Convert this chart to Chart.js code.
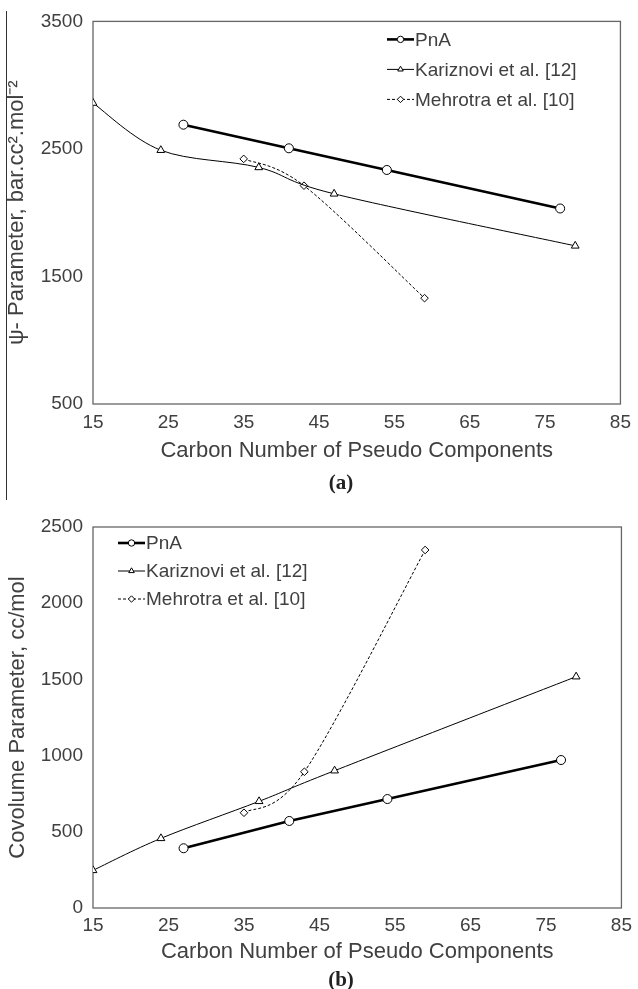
<!DOCTYPE html>
<html>
<head>
<meta charset="utf-8">
<script src="https://cdn.jsdelivr.net/npm/chart.js@4.4.1/dist/chart.umd.min.js"></script>
<style>
  body { margin: 0; background: #fff; }
  #page { position: relative; width: 638px; height: 989px; overflow: hidden; }
  canvas { position: absolute; left: 0; }
  .tag { position: absolute; width: 80px; margin-left: -40px; text-align: center;
         font: bold 21px "Liberation Serif", "Times New Roman", serif; color: #222; line-height: 24px; }
  #edge { position: absolute; left: 6px; top: 11px; width: 1px; height: 489px; background: #333; }
</style>
</head>
<body>
<div id="page">
  <div id="edge"></div>
  <canvas id="chartA" width="638" height="500" style="top:0"></canvas>
  <canvas id="chartB" width="638" height="489" style="top:500px"></canvas>
  <div class="tag" style="left:341px; top:470px">(a)</div>
  <div class="tag" style="left:341px; top:967px">(b)</div>
</div>
<script>
// Carbon numbers of the pseudo components for each method
const carbonPnA = [27, 41, 54, 77];
const carbonKariznovi = [15, 24, 37, 47, 79];
const carbonMehrotra = [35, 43, 59];

// (a) psi parameter, bar.cc2.mol-2
const psiPnA = [2690, 2505, 2335, 2033];
const psiKariznovi = [2860, 2490, 2355, 2148, 1740];
const psiMehrotra = [2422, 2212, 1330];

// (b) covolume parameter, cc/mol
const covPnA = [392, 571, 715, 971];
const covKariznovi = [247, 457, 700, 901, 1518];
const covMehrotra = [625, 894, 2349];

const seriesNames = ['PnA', 'Kariznovi et al. [12]', 'Mehrotra et al. [10]'];
const xTicks = [15, 25, 35, 45, 55, 65, 75, 85];
const yTicksA = [500, 1500, 2500, 3500];
const yTicksB = [0, 500, 1000, 1500, 2000, 2500];

const FONT = '"Liberation Sans", Arial, sans-serif';
const TEXT = '#404040';

function pts(xs, ys) {
  return xs.map((x, i) => ({ x: x, y: ys[i] }));
}

function drawMarker(ctx, style, x, y, r) {
  ctx.beginPath();
  if (style === 'circle') {
    ctx.arc(x, y, r, 0, Math.PI * 2);
  } else if (style === 'triangle') {
    ctx.moveTo(x, y - r);
    ctx.lineTo(x + r * 0.866, y + r * 0.5);
    ctx.lineTo(x - r * 0.866, y + r * 0.5);
    ctx.closePath();
  } else {
    ctx.moveTo(x, y - r);
    ctx.lineTo(x + r, y);
    ctx.lineTo(x, y + r);
    ctx.lineTo(x - r, y);
    ctx.closePath();
  }
  ctx.fill();
  ctx.stroke();
}

// plot box on all four sides
const framePlugin = {
  id: 'frame',
  beforeDatasetsDraw(chart) {
    const { ctx, chartArea: a } = chart;
    ctx.save();
    ctx.strokeStyle = '#666';
    ctx.lineWidth = 1.3;
    ctx.strokeRect(a.left, a.top, a.right - a.left, a.bottom - a.top);
    ctx.restore();
  }
};

// Excel-like smoothing: control points at +-(next - prev)/6
const excelSmooth = {
  id: 'excelSmooth',
  beforeDatasetDraw(chart, args) {
    const ds = chart.data.datasets[args.index];
    if (!ds.smooth) return;
    const meta = args.meta;
    meta.dataset.updateControlPoints(chart.chartArea, 'x');
    const p = meta.data;
    const n = p.length;
    for (let i = 0; i < n; i++) {
      const prev = p[Math.max(0, i - 1)];
      const next = p[Math.min(n - 1, i + 1)];
      const dx = (next.x - prev.x) / 6, dy = (next.y - prev.y) / 6;
      p[i].cp1x = p[i].x - dx; p[i].cp1y = p[i].y - dy;
      p[i].cp2x = p[i].x + dx; p[i].cp2y = p[i].y + dy;
    }
  }
};

// legend drawn inside the plot, Excel style "-o- name"
const insideLegend = {
  id: 'insideLegend',
  afterDatasetsDraw(chart, args, opts) {
    const { ctx, chartArea: a } = chart;
    chart.data.datasets.forEach((ds, i) => {
      const x = a.left + opts.left;
      const y = a.top + opts.top + i * opts.gap;
      ctx.save();
      ctx.strokeStyle = '#000';
      ctx.lineWidth = ds.borderWidth;
      ctx.setLineDash(ds.borderDash || []);
      ctx.beginPath();
      ctx.moveTo(x, y);
      ctx.lineTo(x + 27, y);
      ctx.stroke();
      ctx.setLineDash([]);
      ctx.lineWidth = 1;
      ctx.fillStyle = '#fff';
      drawMarker(ctx, ds.pointStyle, x + 13.5, y, 3.2);
      ctx.fillStyle = TEXT;
      ctx.font = '19px ' + FONT;
      ctx.textBaseline = 'middle';
      ctx.fillText(ds.label, x + 28, y + 1);
      ctx.restore();
    });
  }
};

function makeChart(id, ys, yTicks, yTitle, lay) {
  const datasets = [
    { label: seriesNames[0], data: pts(carbonPnA, ys[0]), borderWidth: 2.6, pointStyle: 'circle',
      pointRadius: 4.5, tension: 0 },
    { label: seriesNames[1], data: pts(carbonKariznovi, ys[1]), borderWidth: 1, pointStyle: 'triangle',
      pointRadius: 4.5, tension: 0.3, smooth: true },
    { label: seriesNames[2], data: pts(carbonMehrotra, ys[2]), borderWidth: 1, borderDash: [3, 2],
      pointStyle: 'rectRot', pointRadius: 3.8, tension: 0.3, smooth: true }
  ].map(d => Object.assign({
    showLine: true, borderColor: '#000', backgroundColor: '#fff',
    pointBackgroundColor: '#fff', pointBorderColor: '#000', pointBorderWidth: 1
  }, d));

  new Chart(document.getElementById(id), {
    type: 'scatter',
    data: { datasets: datasets },
    options: {
      responsive: false,
      animation: false,
      devicePixelRatio: 1,
      layout: { padding: { top: lay.top, right: lay.right, left: 0, bottom: 0 } },
      plugins: {
        legend: { display: false },
        tooltip: { enabled: false },
        insideLegend: lay.legend
      },
      scales: {
        x: {
          type: 'linear', min: 15, max: 85,
          grid: { display: false, drawTicks: false, tickLength: 0 },
          border: { display: false },
          afterBuildTicks: s => { s.ticks = xTicks.map(v => ({ value: v })); },
          ticks: { color: TEXT, font: { family: FONT, size: 19 }, padding: lay.tickPad, maxRotation: 0,
                   autoSkip: false, callback: v => String(v) },
          title: { display: true, text: 'Carbon Number of Pseudo Components', color: TEXT,
                   font: { family: FONT, size: 22 }, padding: { top: 0, bottom: lay.xTitlePad } },
          afterFit: s => { s.height = lay.xHeight; }
        },
        y: {
          type: 'linear', min: yTicks[0], max: yTicks[yTicks.length - 1],
          grid: { display: false, drawTicks: false, tickLength: 0 },
          border: { display: false },
          afterBuildTicks: s => { s.ticks = yTicks.map(v => ({ value: v })); },
          ticks: { color: TEXT, font: { family: FONT, size: 19 }, padding: 10, autoSkip: false,
                   callback: v => String(v) },
          title: { display: true, text: yTitle, color: TEXT,
                   font: { family: FONT, size: 22 }, padding: { top: lay.yTitlePad, bottom: 0 } },
          afterFit: s => { s.width = 93; }
        }
      }
    },
    plugins: [framePlugin, excelSmooth, insideLegend]
  });
}

makeChart('chartA', [psiPnA, psiKariznovi, psiMehrotra], yTicksA,
  'ψ- Parameter, bar.cc².mol⁻²',
  { top: 19, right: 13, xHeight: 96, tickPad: 7, xTitlePad: 36, yTitlePad: 4,
    legend: { left: 294, top: 18, gap: 30 } });

makeChart('chartB', [covPnA, covKariznovi, covMehrotra], yTicksB,
  'Covolume Parameter, cc/mol',
  { top: 27, right: 12, xHeight: 81, tickPad: 6, xTitlePad: 24, yTitlePad: 5,
    legend: { left: 25, top: 16, gap: 28 } });
</script>
</body>
</html>
